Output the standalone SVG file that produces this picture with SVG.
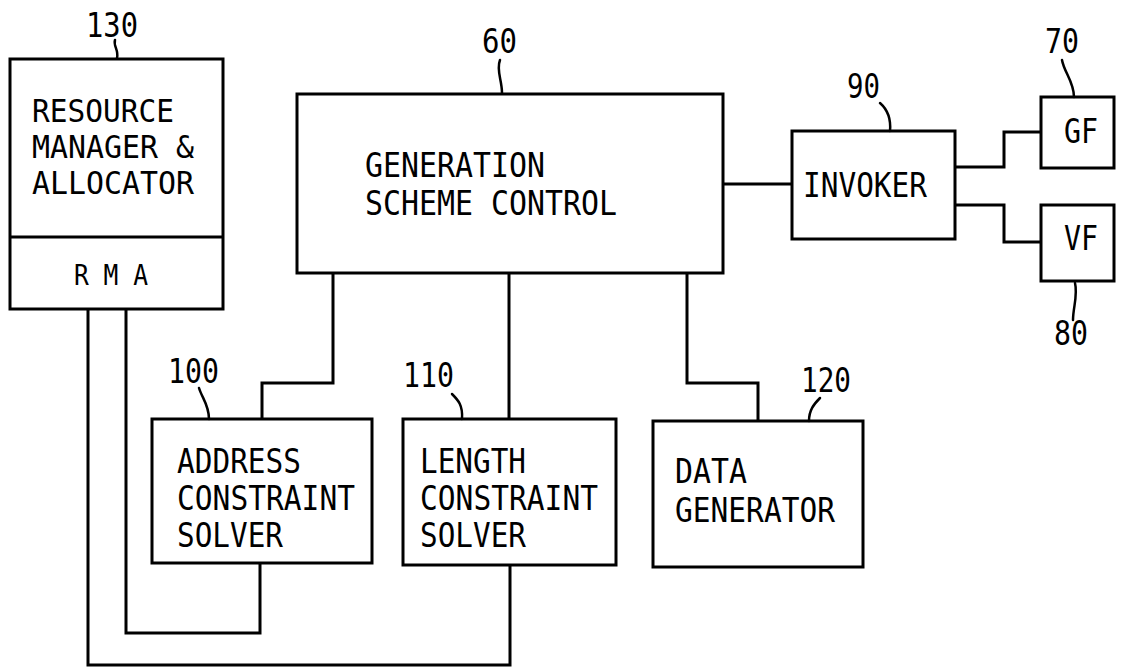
<svg xmlns="http://www.w3.org/2000/svg" width="1121" height="668" viewBox="0 0 1121 668">
<style>
.box{fill:none;stroke:#000;stroke-width:3}
.wire{fill:none;stroke:#000;stroke-width:3;stroke-linejoin:miter}
.lead{fill:none;stroke:#000;stroke-width:2.5;stroke-linecap:round}
text{font-family:"DejaVu Sans Mono","Liberation Mono",monospace;fill:#000}
.t{font-size:33px}
.r{font-size:32px}
.n{font-size:34px}
</style>
<rect width="1121" height="668" fill="#fff"/>
<g id="connectors">
<path class="wire" d="M723 184 H792"/>
<path class="wire" d="M955 167 H1004 V132 H1041"/>
<path class="wire" d="M955 205 H1004 V242 H1041"/>
<path class="wire" d="M333 273 V383 H262 V419"/>
<path class="wire" d="M509 273 V419"/>
<path class="wire" d="M687 273 V383 H758 V421"/>
<path class="wire" d="M260 563 V633 H126 V309"/>
<path class="wire" d="M510 565 V665 H88 V309"/>
</g>
<g id="rma">
<rect class="box" x="10" y="59" width="213" height="250"/>
<line class="box" x1="10" y1="237" x2="223" y2="237"/>
<text class="r" x="32" y="122" textLength="142" lengthAdjust="spacingAndGlyphs">RESOURCE</text>
<text class="r" x="32" y="158" textLength="162" lengthAdjust="spacingAndGlyphs">MANAGER &amp;</text>
<text class="r" x="32" y="194" textLength="162" lengthAdjust="spacingAndGlyphs">ALLOCATOR</text>
<text x="74" y="285" font-size="28" textLength="74" lengthAdjust="spacingAndGlyphs">R M A</text>
<text class="n" x="86" y="37" textLength="52" lengthAdjust="spacingAndGlyphs">130</text>
<path class="lead" d="M115 40 C113 46 119 50 117 58"/>
</g>
<g id="gsc">
<rect class="box" x="297" y="94" width="426" height="179"/>
<text class="t" x="365" y="177" textLength="180" lengthAdjust="spacingAndGlyphs">GENERATION</text>
<text class="t" x="365" y="215" textLength="252" lengthAdjust="spacingAndGlyphs">SCHEME CONTROL</text>
<text class="n" x="482" y="53" textLength="35" lengthAdjust="spacingAndGlyphs">60</text>
<path class="lead" d="M500 60 C496 70 502 80 502 93"/>
</g>
<g id="invoker">
<rect class="box" x="792" y="131" width="163" height="108"/>
<text class="t" x="803" y="197" textLength="124" lengthAdjust="spacingAndGlyphs">INVOKER</text>
<text class="n" x="847" y="98" textLength="33" lengthAdjust="spacingAndGlyphs">90</text>
<path class="lead" d="M880 103 C888 110 891 120 890 131"/>
</g>
<g id="gf">
<rect class="box" x="1041" y="97" width="73" height="71"/>
<text class="t" x="1064" y="143" textLength="34" lengthAdjust="spacingAndGlyphs">GF</text>
<text class="n" x="1045" y="53" textLength="34" lengthAdjust="spacingAndGlyphs">70</text>
<path class="lead" d="M1062 60 C1064 72 1074 82 1074 97"/>
</g>
<g id="vf">
<rect class="box" x="1041" y="205" width="73" height="76"/>
<text class="t" x="1064" y="250" textLength="34" lengthAdjust="spacingAndGlyphs">VF</text>
<text class="n" x="1054" y="345" textLength="34" lengthAdjust="spacingAndGlyphs">80</text>
<path class="lead" d="M1075 283 C1078 295 1073 308 1073 320"/>
</g>
<g id="acs">
<rect class="box" x="152" y="419" width="220" height="144"/>
<text class="t" x="177" y="473" textLength="124" lengthAdjust="spacingAndGlyphs">ADDRESS</text>
<text class="t" x="177" y="510" textLength="178" lengthAdjust="spacingAndGlyphs">CONSTRAINT</text>
<text class="t" x="177" y="547" textLength="106" lengthAdjust="spacingAndGlyphs">SOLVER</text>
<text class="n" x="168" y="383" textLength="51" lengthAdjust="spacingAndGlyphs">100</text>
<path class="lead" d="M199 388 C202 398 209 405 209 419"/>
</g>
<g id="lcs">
<rect class="box" x="403" y="419" width="213" height="146"/>
<text class="t" x="420" y="473" textLength="106" lengthAdjust="spacingAndGlyphs">LENGTH</text>
<text class="t" x="420" y="510" textLength="178" lengthAdjust="spacingAndGlyphs">CONSTRAINT</text>
<text class="t" x="420" y="547" textLength="106" lengthAdjust="spacingAndGlyphs">SOLVER</text>
<text class="n" x="403" y="387" textLength="51" lengthAdjust="spacingAndGlyphs">110</text>
<path class="lead" d="M452 394 C458 400 463 405 462 419"/>
</g>
<g id="dg">
<rect class="box" x="653" y="421" width="210" height="146"/>
<text class="t" x="675" y="483" textLength="72" lengthAdjust="spacingAndGlyphs">DATA</text>
<text class="t" x="675" y="522" textLength="160" lengthAdjust="spacingAndGlyphs">GENERATOR</text>
<text class="n" x="801" y="392" textLength="50" lengthAdjust="spacingAndGlyphs">120</text>
<path class="lead" d="M820 398 C814 404 809 410 809 421"/>
</g>
</svg>
